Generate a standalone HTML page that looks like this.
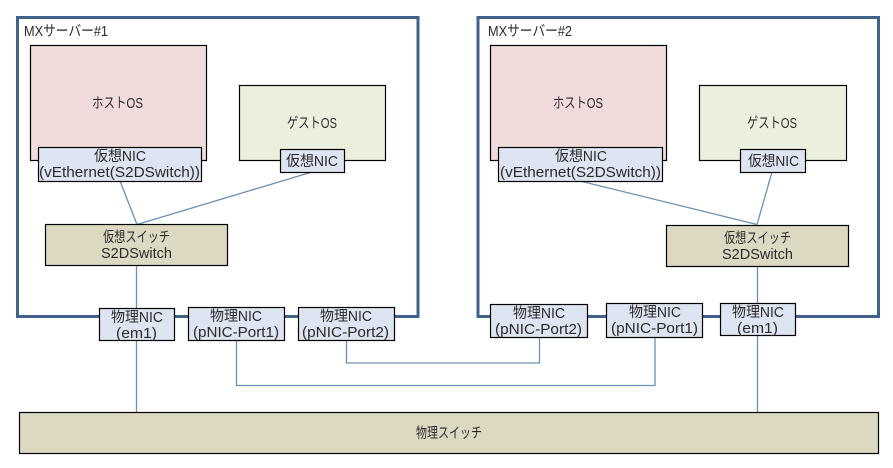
<!DOCTYPE html>
<html>
<head>
<meta charset="utf-8">
<style>
html,body{margin:0;padding:0;background:#fff;width:893px;height:468px;overflow:hidden}
svg{display:block}
text{font-family:"Liberation Sans","Noto Sans CJK JP",sans-serif;font-size:14.5px;fill:#2a2a2a}
.b{stroke:#000;stroke-width:1.2}
.l{fill:none;stroke:#6a90b6;stroke-width:1.3}
.s{fill:none;stroke:#41628a;stroke-width:3}
.n{fill:#dce5f1}
.h{fill:#f2dbdb}
.g{fill:#ebf0de}
.w{fill:#ddd8c2}
</style>
</head>
<body>
<svg width="893" height="468" viewBox="0 0 893 468" xmlns="http://www.w3.org/2000/svg">
<rect width="893" height="468" fill="#fff"/>
<rect class="s" x="17.5" y="17.5" width="400.5" height="299"/>
<rect class="s" x="478" y="17.5" width="400.5" height="299"/>

<path class="l" d="M120 181L137 224.5M312 172L137 224.5M136.5 265V412"/>
<path class="l" d="M580 181L757 224.5M772 172L757 224.5M757.5 266V412"/>
<path class="l" d="M236.5 340V385.5H655V337"/>
<path class="l" d="M346.5 340V363H539.5V337"/>

<rect class="b h" x="30.5" y="45.5" width="176" height="115"/>
<rect class="b g" x="239.5" y="85.5" width="146" height="75"/>
<rect class="b n" x="38.5" y="147.5" width="163" height="34"/>
<rect class="b n" x="280.5" y="149.5" width="64" height="23"/>
<rect class="b w" x="45.5" y="224.5" width="182" height="41"/>
<rect class="b n" x="99.5" y="308.5" width="75" height="32"/>
<rect class="b n" x="188.5" y="307.5" width="96" height="33"/>
<rect class="b n" x="298.5" y="307.5" width="96" height="33"/>

<rect class="b h" x="490.5" y="45.5" width="176" height="115"/>
<rect class="b g" x="699.5" y="85.5" width="147" height="75"/>
<rect class="b n" x="498.5" y="147.5" width="164" height="34"/>
<rect class="b n" x="740.5" y="149.5" width="65" height="23"/>
<rect class="b w" x="666.5" y="225.5" width="182" height="41"/>
<rect class="b n" x="490.5" y="304.5" width="97" height="33"/>
<rect class="b n" x="606.5" y="303.5" width="96" height="34"/>
<rect class="b n" x="720.5" y="303.5" width="75" height="32"/>

<rect class="b w" x="19.5" y="412.5" width="859" height="41"/>

<text x="24" y="36" textLength="84" lengthAdjust="spacingAndGlyphs">MXサーバー#1</text>
<text x="92" y="108" textLength="51" lengthAdjust="spacingAndGlyphs">ホストOS</text>
<text x="287" y="128" textLength="50" lengthAdjust="spacingAndGlyphs">ゲストOS</text>
<text x="94" y="161" textLength="52" lengthAdjust="spacingAndGlyphs">仮想NIC</text>
<text x="39" y="177" textLength="161" lengthAdjust="spacingAndGlyphs">(vEthernet(S2DSwitch))</text>
<text x="286" y="166" textLength="52" lengthAdjust="spacingAndGlyphs">仮想NIC</text>
<text x="103" y="242" textLength="67" lengthAdjust="spacingAndGlyphs">仮想スイッチ</text>
<text x="101" y="258" textLength="71" lengthAdjust="spacingAndGlyphs">S2DSwitch</text>
<text x="111" y="322" textLength="52" lengthAdjust="spacingAndGlyphs">物理NIC</text>
<text x="116" y="338" textLength="41" lengthAdjust="spacingAndGlyphs">(em1)</text>
<text x="210" y="321" textLength="52" lengthAdjust="spacingAndGlyphs">物理NIC</text>
<text x="193" y="337" textLength="86" lengthAdjust="spacingAndGlyphs">(pNIC-Port1)</text>
<text x="320" y="321" textLength="52" lengthAdjust="spacingAndGlyphs">物理NIC</text>
<text x="302" y="337" textLength="87" lengthAdjust="spacingAndGlyphs">(pNIC-Port2)</text>

<text x="488" y="36" textLength="84" lengthAdjust="spacingAndGlyphs">MXサーバー#2</text>
<text x="553" y="108" textLength="50" lengthAdjust="spacingAndGlyphs">ホストOS</text>
<text x="747" y="128" textLength="50" lengthAdjust="spacingAndGlyphs">ゲストOS</text>
<text x="555" y="161" textLength="52" lengthAdjust="spacingAndGlyphs">仮想NIC</text>
<text x="500" y="177" textLength="161" lengthAdjust="spacingAndGlyphs">(vEthernet(S2DSwitch))</text>
<text x="748" y="166" textLength="51" lengthAdjust="spacingAndGlyphs">仮想NIC</text>
<text x="724" y="243" textLength="67" lengthAdjust="spacingAndGlyphs">仮想スイッチ</text>
<text x="722" y="259" textLength="71" lengthAdjust="spacingAndGlyphs">S2DSwitch</text>
<text x="513" y="318" textLength="52" lengthAdjust="spacingAndGlyphs">物理NIC</text>
<text x="495" y="334" textLength="87" lengthAdjust="spacingAndGlyphs">(pNIC-Port2)</text>
<text x="629" y="317" textLength="52" lengthAdjust="spacingAndGlyphs">物理NIC</text>
<text x="611" y="333" textLength="87" lengthAdjust="spacingAndGlyphs">(pNIC-Port1)</text>
<text x="732" y="317" textLength="52" lengthAdjust="spacingAndGlyphs">物理NIC</text>
<text x="737" y="333" textLength="41" lengthAdjust="spacingAndGlyphs">(em1)</text>

<text x="416" y="438" textLength="66" lengthAdjust="spacingAndGlyphs">物理スイッチ</text>
</svg>
</body>
</html>
